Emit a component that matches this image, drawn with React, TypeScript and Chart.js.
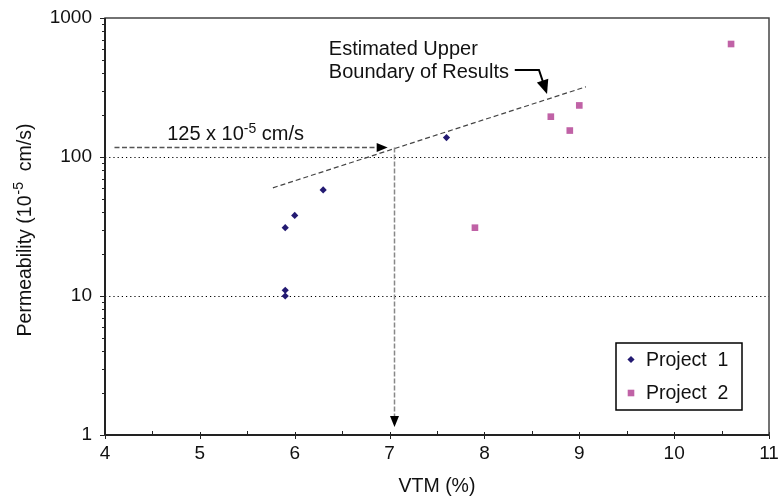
import React, { useEffect, useRef } from 'react';
import { Chart, registerables } from 'chart.js';

Chart.register(...registerables);

const FONT = '"Liberation Sans", Arial, Helvetica, sans-serif';
const TEXT = '#111';

// Series data
const project1X = [5.9, 6.0, 6.3, 5.9, 5.9, 7.6];
const project1Y = [31, 38, 58, 11, 10, 138];
const project2X = [10.6, 9.0, 8.7, 8.9, 7.9];
const project2Y = [650, 235, 195, 155, 31];

// Estimated upper boundary (dashed line)
const boundaryX = [5.77, 9.07];
const boundaryY = [60, 320];

// Axis ticks
const xMin = 4;
const xMax = 11;
const yTicks = [1, 10, 100, 1000];
const gridLinesY = [10, 100];

// Annotation values
const readPermeability = 118;
const readStartX = 4.1;
const readArrowTipX = 6.98;
const readVTM = 7.05;
const readArrowTipY = 1.14;
const readLabel = '125 x 10';
const readLabelSup = '-5';
const readLabelTail = ' cm/s';
const readLabelX = 4.655;
const readLabelY = 132.5;

const boundaryLabel1 = 'Estimated Upper';
const boundaryLabel2 = 'Boundary of Results';
const boundaryLabelX = 6.36;
const boundaryLabel1Y = 542;
const boundaryLabel2Y = 368;
const leaderX = [8.32, 8.575, 8.66];
const leaderY = [423, 423, 284];

const xTitle = 'VTM (%)';
const yTitleMain = 'Permeability (10';
const yTitleSup = '-5';
const yTitleTail = '  cm/s)';

const seriesNames = ['Project 1', 'Project 2'];
const colorP1 = '#231a72';
const colorP2 = '#c062a6';

function arrowHead(ctx: CanvasRenderingContext2D, fx: number, fy: number, tx: number, ty: number, len: number, half: number) {
  const ang = Math.atan2(ty - fy, tx - fx);
  const bx = tx - Math.cos(ang) * len;
  const by = ty - Math.sin(ang) * len;
  const nx = -Math.sin(ang) * half;
  const ny = Math.cos(ang) * half;
  ctx.beginPath();
  ctx.moveTo(tx, ty);
  ctx.lineTo(bx + nx, by + ny);
  ctx.lineTo(bx - nx, by - ny);
  ctx.closePath();
  ctx.fill();
}

function line(ctx: CanvasRenderingContext2D, x1: number, y1: number, x2: number, y2: number) {
  ctx.beginPath();
  ctx.moveTo(x1, y1);
  ctx.lineTo(x2, y2);
  ctx.stroke();
}

const overlay = {
  id: 'overlay',
  beforeDatasetsDraw(chart: any) {
    const { ctx, chartArea: a, scales } = chart;
    const xs = scales.x;
    const ys = scales.y;
    ctx.save();
    // dotted gridlines
    ctx.strokeStyle = '#000';
    ctx.lineWidth = 1;
    ctx.setLineDash([1.2, 3]);
    for (const v of gridLinesY) {
      const py = Math.round(ys.getPixelForValue(v)) + 0.5;
      line(ctx, a.left, py, a.right, py);
    }
    ctx.setLineDash([]);
    ctx.strokeStyle = '#222';
    ctx.lineWidth = 1;
    // y ticks (major + minor, outward)
    for (let d = 1; d <= 1000; d *= 10) {
      for (let m = 1; m <= 9; m++) {
        const v = d * m;
        if (v > 1000) break;
        const py = Math.round(ys.getPixelForValue(v)) + 0.5;
        const len = m === 1 ? 5 : 3;
        line(ctx, a.left - len, py, a.left, py);
      }
    }
    // x ticks
    for (let v = xMin; v <= xMax; v += 1) {
      const px = Math.round(xs.getPixelForValue(v)) + 0.5;
      line(ctx, px, a.bottom - 3, px, a.bottom + 4);
    }
    for (let v = xMin + 0.5; v < xMax; v += 1) {
      const px = Math.round(xs.getPixelForValue(v)) + 0.5;
      line(ctx, px, a.bottom - 4, px, a.bottom);
    }
    // frame
    ctx.strokeStyle = '#444';
    ctx.lineWidth = 1.5;
    ctx.strokeRect(a.left, a.top, a.right - a.left, a.bottom - a.top);
    ctx.strokeStyle = '#222';
    ctx.lineWidth = 2;
    line(ctx, a.left, a.top, a.left, a.bottom);
    line(ctx, a.left, a.bottom, a.right, a.bottom);
    ctx.restore();
  },
  afterDatasetsDraw(chart: any) {
    const { ctx, chartArea: a, scales } = chart;
    const xs = scales.x;
    const ys = scales.y;
    const X = (v: number) => xs.getPixelForValue(v);
    const Y = (v: number) => ys.getPixelForValue(v);
    ctx.save();

    // Horizontal reading arrow
    const hy = Math.round(Y(readPermeability)) + 0.5;
    ctx.strokeStyle = '#555';
    ctx.lineWidth = 1.3;
    ctx.setLineDash([5, 2.5]);
    line(ctx, X(readStartX), hy, X(readArrowTipX) - 8, hy);
    // Vertical reading arrow
    const vx = Math.round(X(readVTM)) + 0.5;
    ctx.strokeStyle = '#888';
    ctx.lineWidth = 1.5;
    ctx.setLineDash([5, 2]);
    line(ctx, vx, hy, vx, Y(readArrowTipY) - 8);
    ctx.setLineDash([]);
    ctx.fillStyle = '#000';
    arrowHead(ctx, X(readStartX), hy, X(readArrowTipX), hy, 11, 4.5);
    arrowHead(ctx, vx, hy, vx, Y(readArrowTipY), 11, 4.5);

    // Leader arrow for boundary label
    ctx.strokeStyle = '#000';
    ctx.lineWidth = 2;
    ctx.beginPath();
    ctx.moveTo(X(leaderX[0]), Y(leaderY[0]));
    ctx.lineTo(X(leaderX[1]), Y(leaderY[1]));
    const tipDX = X(leaderX[2]);
    const tipDY = Y(leaderY[2]);
    const ang = Math.atan2(tipDY - Y(leaderY[1]), tipDX - X(leaderX[1]));
    ctx.lineTo(tipDX - Math.cos(ang) * 10, tipDY - Math.sin(ang) * 10);
    ctx.stroke();
    arrowHead(ctx, X(leaderX[1]), Y(leaderY[1]), tipDX, tipDY, 14, 6);

    // Texts
    ctx.fillStyle = TEXT;
    ctx.textBaseline = 'alphabetic';
    ctx.textAlign = 'left';
    ctx.font = `20px ${FONT}`;
    ctx.fillText(boundaryLabel1, X(boundaryLabelX), Y(boundaryLabel1Y));
    ctx.fillText(boundaryLabel2, X(boundaryLabelX), Y(boundaryLabel2Y));

    // reading label with superscript
    let lx = X(readLabelX);
    const ly = Y(readLabelY);
    ctx.font = `20px ${FONT}`;
    ctx.fillText(readLabel, lx, ly);
    lx += ctx.measureText(readLabel).width;
    ctx.font = `14px ${FONT}`;
    ctx.fillText(readLabelSup, lx, ly - 7);
    lx += ctx.measureText(readLabelSup).width;
    ctx.font = `20px ${FONT}`;
    ctx.fillText(readLabelTail, lx, ly);

    // x title
    ctx.textAlign = 'center';
    ctx.font = `19.5px ${FONT}`;
    ctx.fillText(xTitle, (a.left + a.right) / 2, a.bottom + 57);

    // y title (rotated)
    ctx.save();
    ctx.textAlign = 'left';
    ctx.translate(31, (a.top + a.bottom) / 2 + 4);
    ctx.rotate(-Math.PI / 2);
    ctx.font = `19.5px ${FONT}`;
    const w1 = ctx.measureText(yTitleMain).width;
    const w3 = ctx.measureText(yTitleTail).width;
    ctx.font = `14px ${FONT}`;
    const w2 = ctx.measureText(yTitleSup).width;
    let sx = -(w1 + w2 + w3) / 2;
    ctx.font = `19.5px ${FONT}`;
    ctx.fillText(yTitleMain, sx, 0);
    sx += w1 + 1;
    ctx.font = `14px ${FONT}`;
    ctx.fillText(yTitleSup, sx, -8);
    sx += w2;
    ctx.font = `19.5px ${FONT}`;
    ctx.fillText(yTitleTail, sx, 0);
    ctx.restore();

    // Legend
    const lbx = a.right - 153;
    const lby = a.bottom - 92;
    ctx.strokeStyle = '#000';
    ctx.lineWidth = 1.5;
    ctx.fillStyle = '#fff';
    ctx.fillRect(lbx, lby, 126, 67);
    ctx.strokeRect(lbx, lby, 126, 67);
    const rows = [lby + 16.5, lby + 50];
    // diamond
    ctx.fillStyle = colorP1;
    ctx.beginPath();
    ctx.moveTo(lbx + 15 - 3.6, rows[0]);
    ctx.lineTo(lbx + 15, rows[0] - 3.6);
    ctx.lineTo(lbx + 15 + 3.6, rows[0]);
    ctx.lineTo(lbx + 15, rows[0] + 3.6);
    ctx.closePath();
    ctx.fill();
    // square
    ctx.fillStyle = colorP2;
    ctx.fillRect(lbx + 15 - 3.3, rows[1] - 3.3, 6.6, 6.6);
    ctx.fillStyle = TEXT;
    ctx.textAlign = 'left';
    ctx.textBaseline = 'middle';
    ctx.font = `19.5px ${FONT}`;
    seriesNames.forEach((n, i) => {
      ctx.fillText(n.replace(' ', '  '), lbx + 30, rows[i] + 1);
    });
    ctx.restore();
  },
};

export default function App() {
  const ref = useRef<HTMLCanvasElement>(null);
  useEffect(() => {
    const canvas = ref.current as HTMLCanvasElement;
    const p1 = project1X.map((x, i) => ({ x, y: project1Y[i] }));
    const p2 = project2X.map((x, i) => ({ x, y: project2Y[i] }));
    const bd = boundaryX.map((x, i) => ({ x, y: boundaryY[i] }));
    const chart = new Chart(canvas, {
      type: 'scatter',
      data: {
        datasets: [
          {
            label: 'Upper boundary',
            data: bd,
            showLine: true,
            borderColor: '#444',
            borderWidth: 1.2,
            borderDash: [5, 3],
            pointRadius: 0,
            fill: false,
          } as any,
          {
            label: seriesNames[0],
            data: p1,
            pointStyle: 'rectRot',
            pointRadius: 3.6,
            backgroundColor: colorP1,
            borderColor: colorP1,
            borderWidth: 0,
          },
          {
            label: seriesNames[1],
            data: p2,
            pointStyle: 'rect',
            pointRadius: 4.7,
            backgroundColor: colorP2,
            borderColor: colorP2,
            borderWidth: 0,
          },
        ],
      },
      options: {
        responsive: false,
        animation: false,
        devicePixelRatio: 1,
        layout: { padding: { top: 18, right: 11, left: 0, bottom: 0 } },
        plugins: { legend: { display: false }, tooltip: { enabled: false } },
        scales: {
          x: {
            type: 'linear',
            min: xMin,
            max: xMax,
            grid: { display: false, drawTicks: false },
            border: { display: false },
            ticks: {
              stepSize: 1,
              padding: 7,
              color: TEXT,
              font: { family: FONT, size: 19 },
            },
            afterFit: (s: any) => {
              s.height = 66;
              s.paddingLeft = 0;
              s.paddingRight = 0;
              s.paddingTop = 0;
              s.paddingBottom = 0;
            },
          },
          y: {
            type: 'logarithmic',
            min: 1,
            max: 1000,
            grid: { display: false, drawTicks: false },
            border: { display: false },
            afterBuildTicks: (s: any) => {
              s.ticks = yTicks.map((v) => ({ value: v }));
            },
            ticks: {
              padding: 13,
              color: TEXT,
              font: { family: FONT, size: 19 },
              callback: (v: any) => String(v),
            },
            afterFit: (s: any) => {
              s.width = 105;
              s.paddingLeft = 0;
              s.paddingRight = 0;
              s.paddingTop = 0;
              s.paddingBottom = 0;
            },
          },
        },
      },
      plugins: [overlay],
    });
    return () => chart.destroy();
  }, []);
  return (
    <div style={{ position: 'absolute', left: 0, top: 0, width: 780, height: 501 }}>
      <canvas ref={ref} width={780} height={501} style={{ display: 'block', width: 780, height: 501 }} />
    </div>
  );
}
